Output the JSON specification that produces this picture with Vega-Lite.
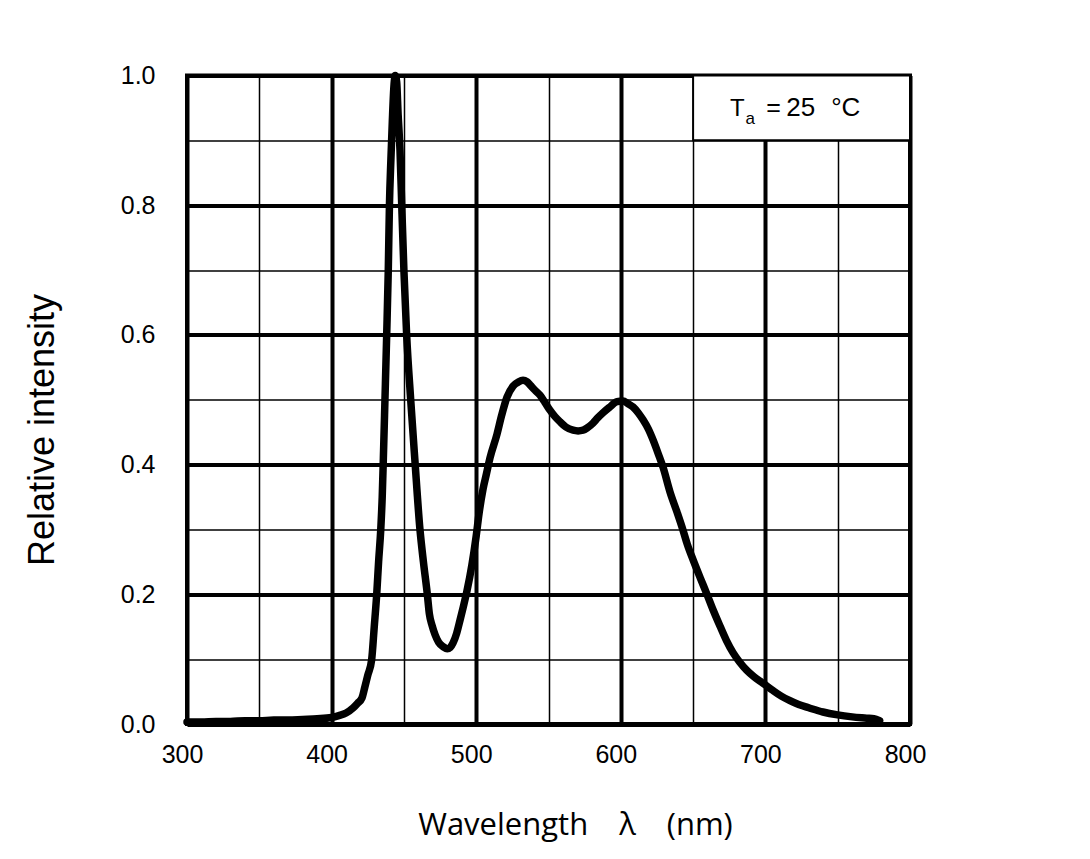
{
  "$schema": "https://vega.github.io/schema/vega-lite/v6.json",
  "width": 723,
  "height": 648.5,
  "autosize": {"type": "none"},
  "padding": {"left": 187, "top": 75.5, "right": 180, "bottom": 135},
  "background": "white",
  "config": {
    "view": {"stroke": "black", "strokeWidth": 4},
    "axis": {"domain": false, "ticks": false, "tickSize": 0, "labelFont": "Liberation Sans", "labelFontSize": 25, "labelColor": "black", "gridColor": "black", "gridOpacity": 1, "labelFlush": false, "labelOverlap": false, "labelBound": false}
  },
  "layer": [
    {
      "data": {"values": [
        {"nm": 300, "v": 0.003}, {"nm": 310, "v": 0.003}, {"nm": 320, "v": 0.004}, {"nm": 330, "v": 0.004},
        {"nm": 340, "v": 0.005}, {"nm": 350, "v": 0.005}, {"nm": 360, "v": 0.006}, {"nm": 370, "v": 0.006},
        {"nm": 380, "v": 0.007}, {"nm": 390, "v": 0.008}, {"nm": 400, "v": 0.010}, {"nm": 405, "v": 0.013},
        {"nm": 410, "v": 0.017}, {"nm": 415, "v": 0.025}, {"nm": 418, "v": 0.032}, {"nm": 421, "v": 0.040},
        {"nm": 423, "v": 0.057}, {"nm": 425, "v": 0.075}, {"nm": 427.7, "v": 0.099}, {"nm": 429.5, "v": 0.15},
        {"nm": 431.2, "v": 0.2}, {"nm": 432.5, "v": 0.25}, {"nm": 434, "v": 0.3}, {"nm": 435, "v": 0.35},
        {"nm": 435.8, "v": 0.41}, {"nm": 436.9, "v": 0.5}, {"nm": 438.1, "v": 0.6}, {"nm": 439.2, "v": 0.7},
        {"nm": 440, "v": 0.8}, {"nm": 441, "v": 0.87}, {"nm": 442, "v": 0.93}, {"nm": 443, "v": 0.98},
        {"nm": 444, "v": 1.0}, {"nm": 445, "v": 0.99}, {"nm": 446, "v": 0.94}, {"nm": 447.3, "v": 0.885},
        {"nm": 448.5, "v": 0.8}, {"nm": 450, "v": 0.7}, {"nm": 451.9, "v": 0.6}, {"nm": 454.7, "v": 0.5},
        {"nm": 457.5, "v": 0.41}, {"nm": 461.1, "v": 0.3}, {"nm": 463.5, "v": 0.25}, {"nm": 466.2, "v": 0.2},
        {"nm": 467.6, "v": 0.17}, {"nm": 469.5, "v": 0.152}, {"nm": 471.5, "v": 0.138}, {"nm": 474, "v": 0.126},
        {"nm": 477.3, "v": 0.119}, {"nm": 480, "v": 0.116}, {"nm": 482, "v": 0.118}, {"nm": 484, "v": 0.125},
        {"nm": 486.5, "v": 0.14}, {"nm": 488.8, "v": 0.16}, {"nm": 491, "v": 0.18}, {"nm": 493.6, "v": 0.205},
        {"nm": 497, "v": 0.245}, {"nm": 500, "v": 0.29}, {"nm": 502, "v": 0.325}, {"nm": 504.7, "v": 0.362},
        {"nm": 507, "v": 0.385}, {"nm": 509.5, "v": 0.41}, {"nm": 514.4, "v": 0.447}, {"nm": 517.6, "v": 0.476},
        {"nm": 521.3, "v": 0.504},
        {"nm": 525.5, "v": 0.521}, {"nm": 529, "v": 0.527}, {"nm": 532.4, "v": 0.530}, {"nm": 535, "v": 0.528},
        {"nm": 537.2, "v": 0.523}, {"nm": 540.5, "v": 0.515}, {"nm": 544.1, "v": 0.507}, {"nm": 547.5, "v": 0.496},
        {"nm": 551, "v": 0.484}, {"nm": 554.5, "v": 0.474}, {"nm": 558, "v": 0.466}, {"nm": 562, "v": 0.458},
        {"nm": 567, "v": 0.453}, {"nm": 570.5, "v": 0.452}, {"nm": 573.9, "v": 0.453}, {"nm": 577, "v": 0.457},
        {"nm": 580.8, "v": 0.464}, {"nm": 584, "v": 0.472}, {"nm": 587.7, "v": 0.48}, {"nm": 592, "v": 0.488},
        {"nm": 597.4, "v": 0.497}, {"nm": 601.5, "v": 0.498}, {"nm": 605, "v": 0.494}, {"nm": 608.4, "v": 0.489},
        {"nm": 612, "v": 0.48}, {"nm": 615.4, "v": 0.469}, {"nm": 619, "v": 0.455}, {"nm": 622.3, "v": 0.438},
        {"nm": 626, "v": 0.416}, {"nm": 629.2, "v": 0.396}, {"nm": 634, "v": 0.358}, {"nm": 639, "v": 0.326},
        {"nm": 643, "v": 0.299}, {"nm": 646, "v": 0.277}, {"nm": 650, "v": 0.253}, {"nm": 655, "v": 0.225},
        {"nm": 659.6, "v": 0.200}, {"nm": 664, "v": 0.175}, {"nm": 668.6, "v": 0.151}, {"nm": 673, "v": 0.129},
        {"nm": 677.6, "v": 0.110}, {"nm": 682, "v": 0.096}, {"nm": 687, "v": 0.083}, {"nm": 692, "v": 0.073},
        {"nm": 698.3, "v": 0.063}, {"nm": 705, "v": 0.052}, {"nm": 711, "v": 0.043}, {"nm": 717, "v": 0.036},
        {"nm": 723, "v": 0.030}, {"nm": 730, "v": 0.025}, {"nm": 739.8, "v": 0.0185}, {"nm": 750, "v": 0.014},
        {"nm": 760, "v": 0.011}, {"nm": 770, "v": 0.009}, {"nm": 775, "v": 0.008}, {"nm": 779, "v": 0.005}
      ]},
      "mark": {"type": "line", "color": "black", "strokeWidth": 7.5, "strokeJoin": "round", "strokeCap": "round", "interpolate": "monotone"},
      "encoding": {
        "x": {
          "field": "nm", "type": "quantitative",
          "scale": {"domain": [300, 800], "nice": false, "zero": false},
          "axis": {
            "values": [300, 350, 400, 450, 500, 550, 600, 650, 700, 750, 800],
            "labelExpr": "datum.value % 100 === 0 ? datum.label : ''",
            "labelPadding": 18,
            "labelOffset": -5,
            "gridWidth": {"condition": {"test": "datum.value % 100 === 0", "value": 4}, "value": 1.5},
            "title": "Wavelength\u3000λ\u3000(nm)",
            "titleFont": "Open Sans", "titleFontSize": 31, "titleFontWeight": "normal", "titleColor": "black",
            "titleX": 388, "titleY": 110, "titleAlign": "center", "titleBaseline": "alphabetic"
          }
        },
        "y": {
          "field": "v", "type": "quantitative",
          "scale": {"domain": [0, 1], "nice": false},
          "axis": {
            "values": [0, 0.1, 0.2, 0.3, 0.4, 0.5, 0.6, 0.7, 0.8, 0.9, 1.0],
            "labelExpr": "round(datum.value * 10) % 2 === 0 ? format(datum.value, '.1f') : ''",
            "labelPadding": 32,
            "gridWidth": {"condition": {"test": "round(datum.value * 10) % 2 === 0", "value": 4}, "value": 1.5},
            "title": "Relative intensity",
            "titleFont": "Liberation Sans", "titleFontSize": 36, "titleFontWeight": "normal", "titleColor": "black",
            "titleX": -145, "titleY": 354, "titleAngle": -90, "titleAlign": "center", "titleBaseline": "middle"
          }
        }
      }
    },
    {
      "data": {"values": [{}]},
      "mark": {"type": "rect", "fill": "white", "stroke": "black", "strokeWidth": 2},
      "encoding": {
        "x": {"datum": 650, "type": "quantitative"},
        "x2": {"datum": 800},
        "y": {"datum": 0.9, "type": "quantitative"},
        "y2": {"datum": 1.0}
      }
    },
    {
      "data": {"values": [{}]},
      "mark": {"type": "text", "text": "T", "font": "Liberation Sans", "fontSize": 24, "align": "left", "baseline": "alphabetic", "color": "black"},
      "encoding": {
        "x": {"datum": 675.6, "type": "quantitative"},
        "y": {"datum": 0.9375, "type": "quantitative"}
      }
    },
    {
      "data": {"values": [{}]},
      "mark": {"type": "text", "text": "a", "font": "Liberation Sans", "fontSize": 17, "align": "left", "baseline": "alphabetic", "color": "black"},
      "encoding": {
        "x": {"datum": 686.3, "type": "quantitative"},
        "y": {"datum": 0.9245, "type": "quantitative"}
      }
    },
    {
      "data": {"values": [{}]},
      "mark": {"type": "text", "text": "=", "font": "Liberation Sans", "fontSize": 25, "align": "left", "baseline": "alphabetic", "color": "black"},
      "encoding": {
        "x": {"datum": 700.6, "type": "quantitative"},
        "y": {"datum": 0.9375, "type": "quantitative"}
      }
    },
    {
      "data": {"values": [{}]},
      "mark": {"type": "text", "text": "25", "font": "Liberation Sans", "fontSize": 26, "align": "left", "baseline": "alphabetic", "color": "black"},
      "encoding": {
        "x": {"datum": 714.5, "type": "quantitative"},
        "y": {"datum": 0.9375, "type": "quantitative"}
      }
    },
    {
      "data": {"values": [{}]},
      "mark": {"type": "text", "text": "°C", "font": "Liberation Sans", "fontSize": 26, "align": "left", "baseline": "alphabetic", "color": "black"},
      "encoding": {
        "x": {"datum": 745.5, "type": "quantitative"},
        "y": {"datum": 0.9375, "type": "quantitative"}
      }
    }
  ]
}
